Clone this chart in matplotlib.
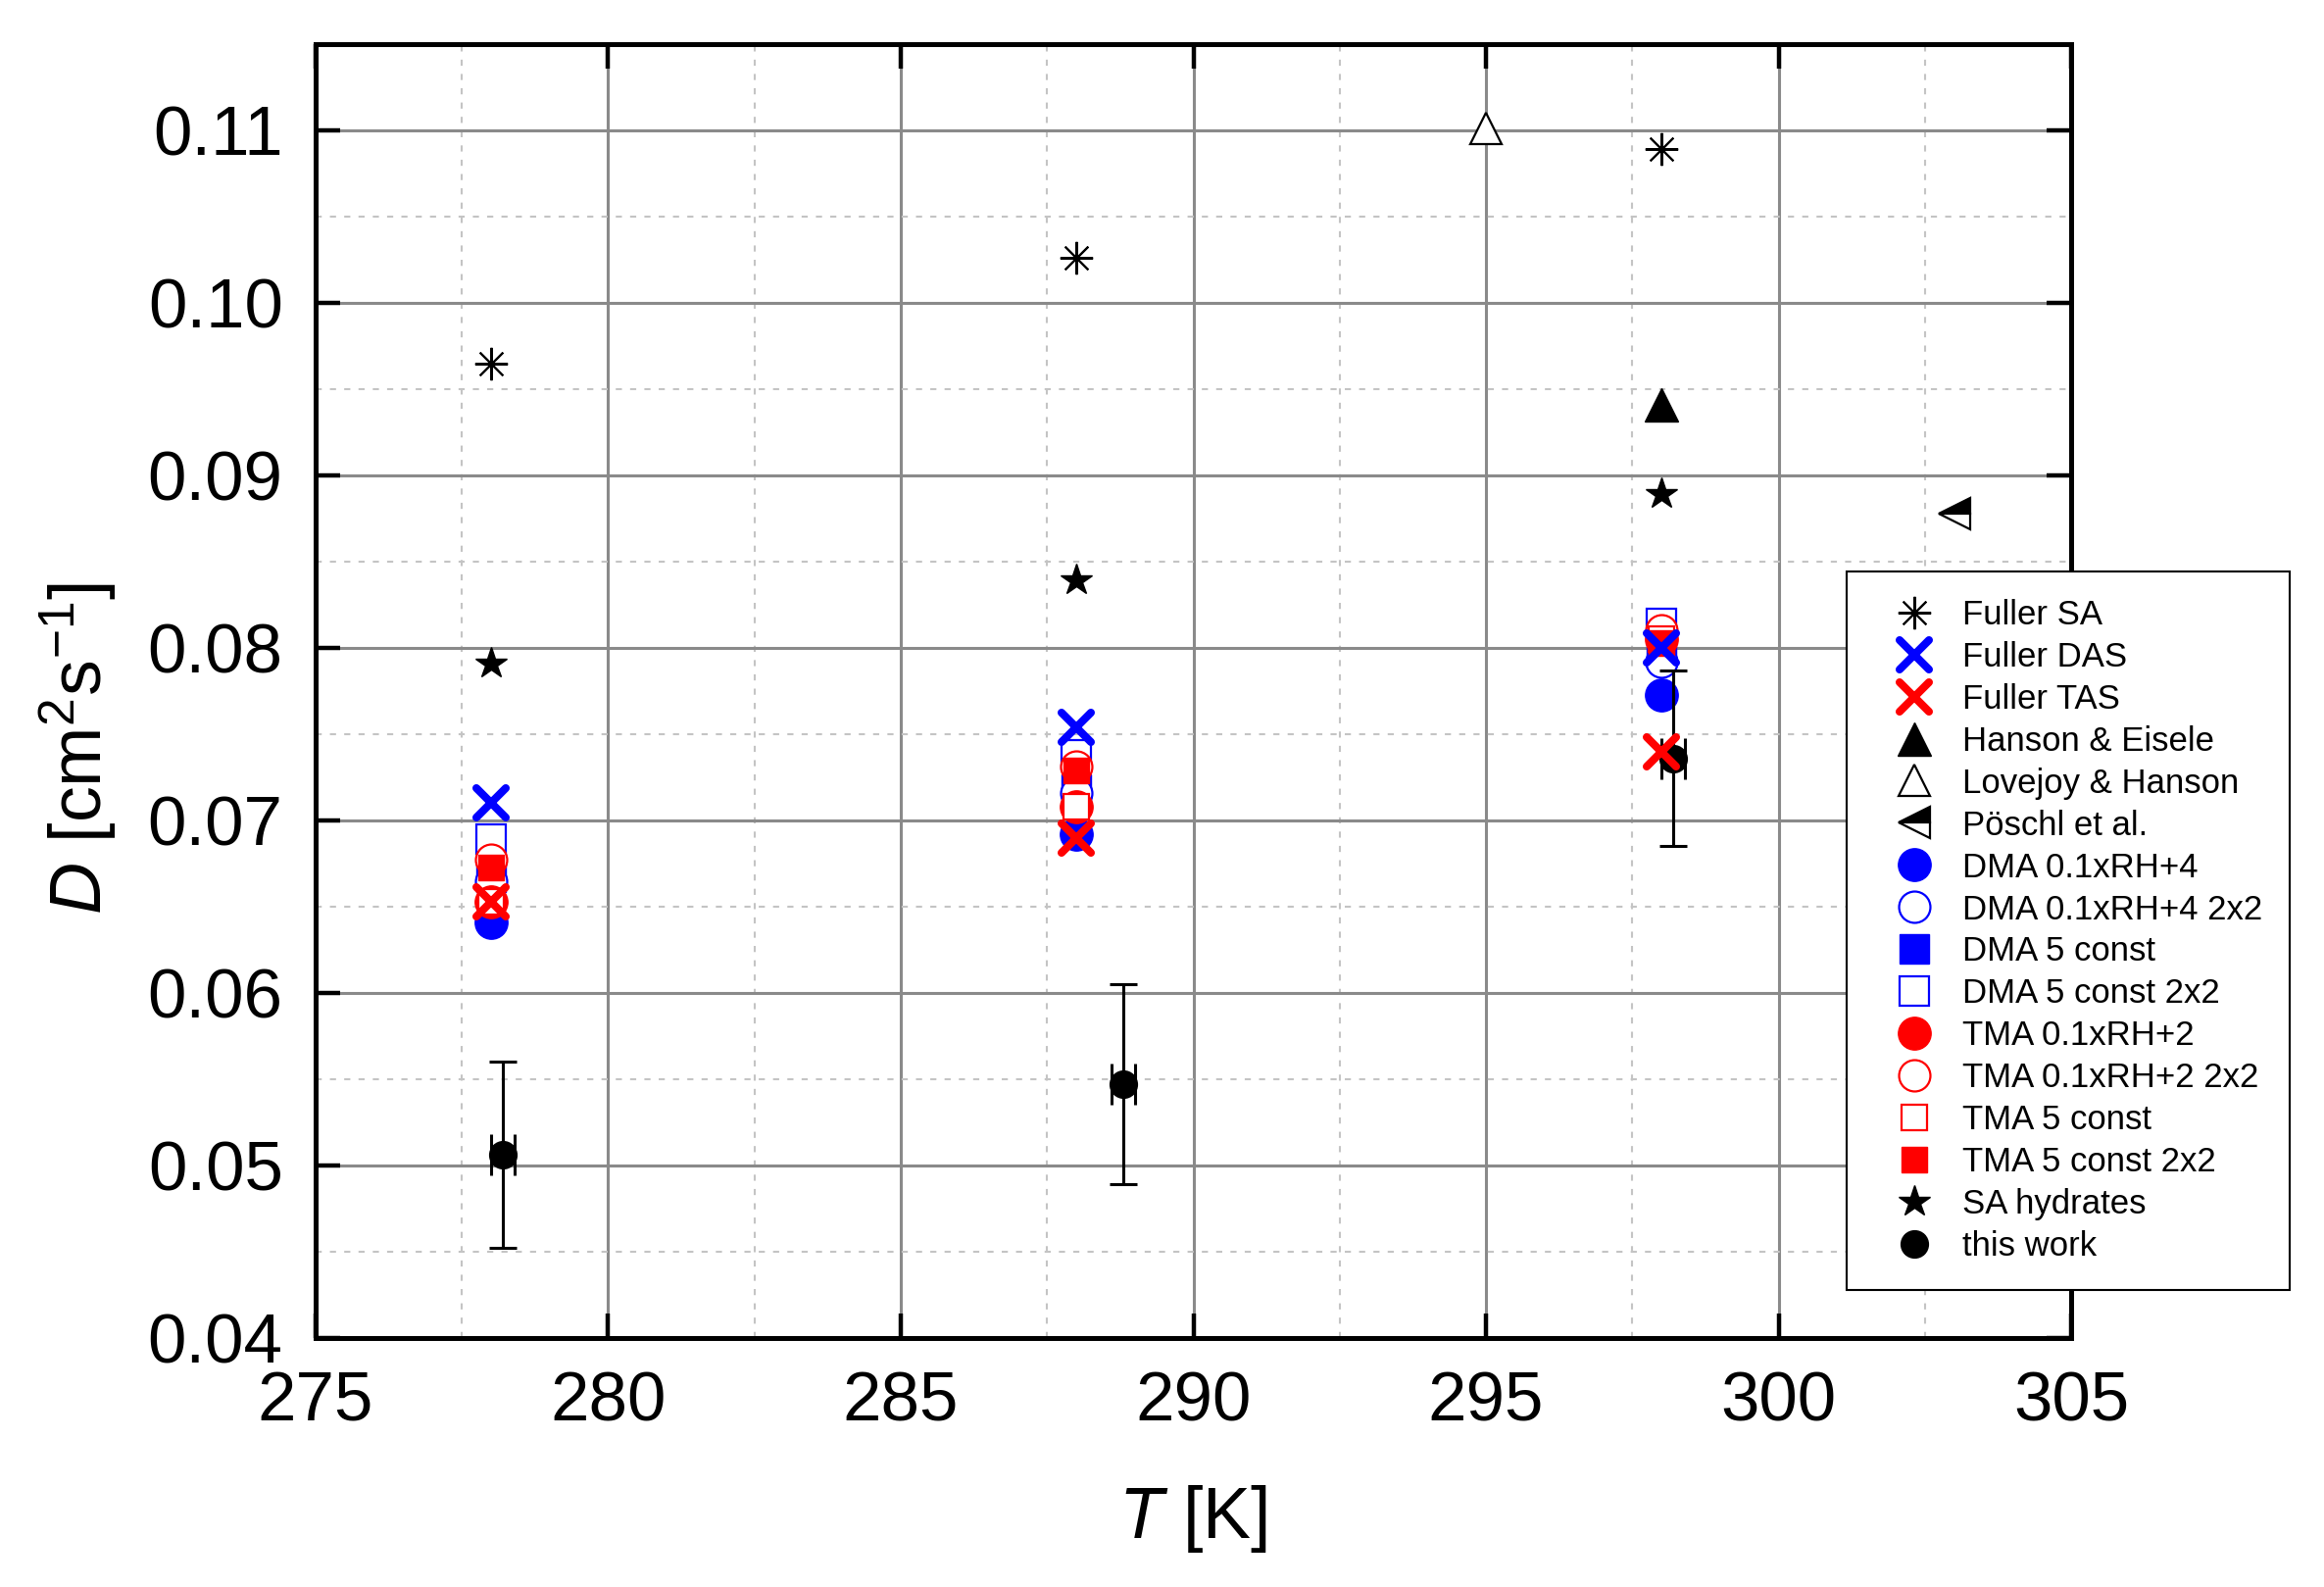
import matplotlib
matplotlib.use("Agg")
import matplotlib.pyplot as plt
from matplotlib.markers import MarkerStyle
from matplotlib.ticker import MultipleLocator, FormatStrFormatter

plt.rcParams['font.family'] = ['Liberation Sans', 'DejaVu Sans']
plt.rcParams['mathtext.fontset'] = 'custom'
plt.rcParams['mathtext.rm'] = 'Liberation Sans'
plt.rcParams['mathtext.it'] = 'Liberation Sans:italic'

# ---------------- data ----------------
T_model = [278, 288, 298]
fuller_sa = [0.0965, 0.1026, 0.1089]
fuller_das = [0.0710, 0.0754, 0.0800]
fuller_tas = [0.0653, 0.0690, 0.0740]
sa_hydrates = [0.0791, 0.0839, 0.0889]

dma_rh = [0.0641, 0.0692, 0.0773]
dma_rh_2x2 = [0.0665, 0.0716, 0.0792]
dma_const = [0.0667, 0.0718, 0.0797]
dma_const_2x2 = [0.0689, 0.0738, 0.0814]
tma_rh = [0.0653, 0.0708, 0.0805]
tma_rh_2x2 = [0.0677, 0.0731, 0.0810]
tma_const = [0.0653, 0.0708, 0.0805]
tma_const_2x2 = [0.0673, 0.0729, 0.0803]

T_hanson = [298]
D_hanson = [0.0941]
T_lovejoy = [295]
D_lovejoy = [0.1101]
T_poschl = [303]
D_poschl = [0.0878]

T_this = [278.2, 288.8, 298.2]
D_this = [0.0506, 0.0547, 0.0736]
D_this_err = [0.0054, 0.0058, 0.0051]
T_this_err = [0.2, 0.2, 0.2]

# ---------------- figure ----------------
fig = plt.figure(figsize=(23.71, 16.19), dpi=100)
ax = fig.add_axes([0.1358, 0.1569, 0.8912 - 0.1358, 0.9722 - 0.1569])

BLUE = '#0000ff'
RED = '#ff0000'
xm = MarkerStyle('x', capstyle='round')

handles = {}

def pl(x, y, label, **kw):
    ln, = ax.plot(x, y, linestyle='none', label=label, **kw)
    handles[label] = ln
    return ln

# DMA
pl(T_model, dma_rh, 'DMA 0.1xRH+4', marker='o', ms=24, mfc=BLUE, mec=BLUE, mew=1, zorder=3)
pl(T_model, dma_const, 'DMA 5 const', marker='s', ms=21, mfc=BLUE, mec=BLUE, mew=1, zorder=3)
pl(T_model, dma_rh_2x2, 'DMA 0.1xRH+4 2x2', marker='o', ms=23, mfc='white', mec=BLUE, mew=1.6, zorder=3)
pl(T_model, dma_const_2x2, 'DMA 5 const 2x2', marker='s', ms=21, mfc='white', mec=BLUE, mew=1.6, zorder=3)
# TMA
pl(T_model, tma_rh, 'TMA 0.1xRH+2', marker='o', ms=24, mfc=RED, mec=RED, mew=1, zorder=4)
pl(T_model, tma_rh_2x2, 'TMA 0.1xRH+2 2x2', marker='o', ms=23, mfc='white', mec=RED, mew=1.6, zorder=4)
pl(T_model, tma_const, 'TMA 5 const', marker='s', ms=19, mfc='white', mec=RED, mew=1.6, zorder=4)
pl(T_model, tma_const_2x2, 'TMA 5 const 2x2', marker='s', ms=19, mfc=RED, mec=RED, mew=1, zorder=4)

# SA hydrates
pl(T_model, sa_hydrates, 'SA hydrates', marker='*', ms=24, mfc='black', mec='black', mew=1, zorder=4)

# this work
ax.errorbar(T_this, D_this, yerr=D_this_err, fmt='none', ecolor='black',
            elinewidth=2.2, capsize=10, capthick=2.2, zorder=5)
ax.errorbar(T_this, D_this, xerr=T_this_err, fmt='none', ecolor='black',
            elinewidth=2.2, capsize=15, capthick=2.2, zorder=5)
pl(T_this, D_this, 'this work', marker='o', ms=20, mfc='black', mec='black', mew=1, zorder=6)

# Fuller
pl(T_model, fuller_sa, 'Fuller SA', marker=(8, 2, 0), ms=24, mec='black', mew=1.5, zorder=7)
pl(T_model, fuller_das, 'Fuller DAS', marker=xm, ms=21, mec=BLUE, mew=5.8, zorder=7)
pl(T_model, fuller_tas, 'Fuller TAS', marker=xm, ms=21, mec=RED, mew=5.8, zorder=7)

# literature
pl(T_hanson, D_hanson, 'Hanson & Eisele', marker='^', ms=24, mfc='black', mec='black', mew=1, zorder=7)
pl(T_lovejoy, D_lovejoy, 'Lovejoy & Hanson', marker='^', ms=23, mfc='white', mec='black', mew=1.6, zorder=7)
pl(T_poschl, D_poschl, 'Pöschl et al.', marker='<', ms=23, mfc='black', mfcalt='white',
   fillstyle='top', mec='black', mew=1.6, zorder=7)

# ---------------- axes ----------------
ax.set_xlim(275, 305)
ax.set_ylim(0.04, 0.115)
ax.xaxis.set_major_locator(MultipleLocator(5))
ax.xaxis.set_minor_locator(MultipleLocator(2.5))
ax.yaxis.set_major_locator(MultipleLocator(0.01))
ax.yaxis.set_minor_locator(MultipleLocator(0.005))
ax.yaxis.set_major_formatter(FormatStrFormatter('%.2f'))

ax.grid(True, which='major', color='#8a8a8a', linewidth=2.2, linestyle='-', zorder=0)
ax.grid(True, which='minor', color='#c4c4c4', linewidth=1.5, linestyle=(0, (3, 4)), zorder=0)
ax.set_axisbelow(True)

for s in ax.spines.values():
    s.set_linewidth(3.6)
    s.set_color('black')

ax.tick_params(which='major', direction='in', length=18, width=3.2,
               top=True, right=True, labelsize=51, pad=24, colors='black')
ax.tick_params(which='minor', length=0, width=0, top=True, right=True)

ax.set_xlabel(r'$\mathit{T}$ [K]', fontsize=53)
ax.set_ylabel(r'$\mathit{D}$ [cm$^{2}$s$^{-1}$]', fontsize=53)
ax.xaxis.set_label_coords(0.5, -0.112)
ax.yaxis.set_label_coords(-0.112, 0.456)

order = ['Fuller SA', 'Fuller DAS', 'Fuller TAS', 'Hanson & Eisele', 'Lovejoy & Hanson',
         'Pöschl et al.', 'DMA 0.1xRH+4', 'DMA 0.1xRH+4 2x2', 'DMA 5 const', 'DMA 5 const 2x2',
         'TMA 0.1xRH+2', 'TMA 0.1xRH+2 2x2', 'TMA 5 const', 'TMA 5 const 2x2',
         'SA hydrates', 'this work']
leg = ax.legend([handles[k] for k in order], order, loc='upper left',
                bbox_to_anchor=(1884 / 2371, 1 - 583 / 1619), bbox_transform=fig.transFigure,
                fontsize=25, numpoints=1, handlelength=2.4, handletextpad=0.2,
                borderpad=0.8, labelspacing=0.287, borderaxespad=0, fancybox=False,
                framealpha=1, edgecolor='black')
leg.get_frame().set_linewidth(1.5)
leg.set_zorder(20)

fig.savefig('out.png', dpi=100)
